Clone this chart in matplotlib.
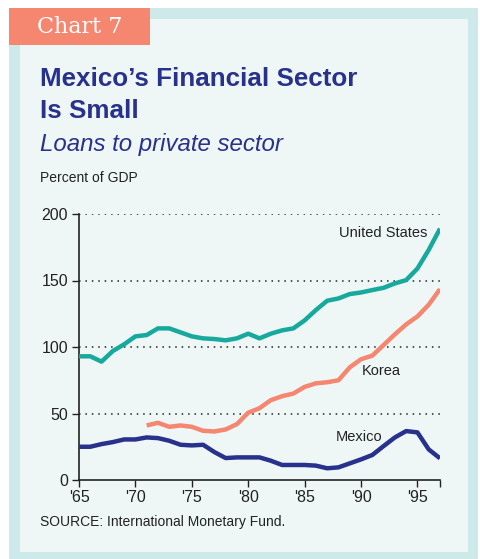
import matplotlib
matplotlib.use("Agg")
import matplotlib.pyplot as plt
from matplotlib.patches import Rectangle
from matplotlib import font_manager

# data (percent of GDP)
us_years = list(range(1965, 1998))
us_vals = [93, 93, 89, 97, 102, 108, 109, 114, 114, 111, 108, 106.5, 106, 105, 106.5,
           110, 106.5, 110, 112.5, 114, 120, 127.8, 134.8, 136.5, 139.8, 141, 142.8,
           144.5, 147.8, 150.3, 159, 173, 189]

korea_years = list(range(1971, 1998))
korea_vals = [41, 43, 40, 41, 40, 37, 36.5, 38, 42, 50.6, 54, 60, 63, 65, 70, 72.7,
              73.5, 75, 84.7, 90.8, 93.5, 101.5, 109.5, 117, 123, 131.8, 143.5]

mexico_years = list(range(1965, 1998))
mexico_vals = [25, 25, 27, 28.5, 30.5, 30.5, 32, 31.5, 29.5, 26.5, 26, 26.5, 21, 16.5,
               17, 17, 17, 14.5, 11.3, 11.3, 11.3, 10.8, 8.8, 9.5, 12.5, 15.5, 18.8,
               25.5, 32, 36.8, 35.8, 23, 16.3]

xtick_years = [1965, 1970, 1975, 1980, 1985, 1990, 1995]
xtick_labels = ["'65", "'70", "'75", "'80", "'85", "'90", "'95"]
yticks = [0, 50, 100, 150, 200]

W, H = 481, 559
teal = "#18a99d"
salmon = "#f5866f"
navy = "#28318c"
border = "#cde9e9"
panel = "#eef7f6"

available = {f.name for f in font_manager.fontManager.ttflist}
narrow = "Liberation Sans Narrow" if "Liberation Sans Narrow" in available else "Liberation Sans"


def fx(px):
    return px / W


def fy(py):
    return 1 - py / H


fig = plt.figure(figsize=(W / 100, H / 100), dpi=100)
fig.patch.set_facecolor("white")

# frame and panel
fig.patches.append(Rectangle((fx(9), fy(559)), fx(478) - fx(9), fy(8) - fy(559),
                             transform=fig.transFigure, facecolor=border, edgecolor="none", zorder=-3))
fig.patches.append(Rectangle((fx(20), fy(552)), fx(468) - fx(20), fy(19) - fy(552),
                             transform=fig.transFigure, facecolor=panel, edgecolor="none", zorder=-2))
fig.patches.append(Rectangle((fx(9), fy(45)), fx(150) - fx(9), fy(8) - fy(45),
                             transform=fig.transFigure, facecolor=salmon, edgecolor="none", zorder=-1))

fig.text(fx(37), fy(27), "Chart 7", color="white", fontsize=16, family="DejaVu Serif",
         va="center", ha="left")
fig.text(fx(40), fy(79), "Mexico\u2019s Financial Sector", color=navy, fontsize=18.7,
         fontweight="bold", family="Liberation Sans", va="center")
fig.text(fx(40), fy(111), "Is Small", color=navy, fontsize=18.7,
         fontweight="bold", family="Liberation Sans", va="center")
fig.text(fx(40), fy(145), "Loans to private sector", color=navy, fontsize=17.3,
         style="italic", family="Liberation Sans", va="center")
fig.text(fx(40), fy(178), "Percent of GDP", color="#222222", fontsize=10,
         family=narrow, va="center")
fig.text(fx(40), fy(522), "SOURCE: International Monetary Fund.", color="#222222",
         fontsize=10, family=narrow, va="center")

ax = fig.add_axes([fx(79), fy(480), fx(440) - fx(79), fy(214) - fy(480)])
ax.set_facecolor("none")
ax.set_zorder(2)

ax.plot(us_years, us_vals, color=teal, lw=3.2, solid_capstyle="butt", zorder=3)
ax.plot(korea_years, korea_vals, color=salmon, lw=3.2, solid_capstyle="butt", zorder=3)
ax.plot(mexico_years, mexico_vals, color=navy, lw=3.2, solid_capstyle="butt", zorder=3)

ax.set_xlim(1965, 1997)
ax.set_ylim(0, 200)
for v in yticks[1:]:
    ax.axhline(v, color="#222222", lw=1.1, ls=(0, (1, 3.2)), zorder=1)

ax.set_xticks(xtick_years + [1997])
ax.set_xticklabels(xtick_labels + [""], family=narrow, fontsize=11.5)
ax.set_yticks(yticks)
ax.set_yticklabels([str(v) for v in yticks], family=narrow, fontsize=11.5)
ax.tick_params(axis="both", direction="out", length=5, width=1, color="#222222", labelcolor="#222222")
ax.tick_params(axis="x", pad=2)
ax.tick_params(axis="y", pad=3)
for s in ["top", "right"]:
    ax.spines[s].set_visible(False)
for s in ["left", "bottom"]:
    ax.spines[s].set_linewidth(1.2)
    ax.spines[s].set_color("#222222")

ax.text(1995.85, 186, "United States", family=narrow, fontsize=10.5, ha="right", va="center", color="#222222")
ax.text(1991.8, 82, "Korea", family=narrow, fontsize=10.5, ha="center", va="center", color="#222222")
ax.text(1989.8, 32.5, "Mexico", family=narrow, fontsize=10.5, ha="center", va="center", color="#222222")

fig.savefig("out.png", dpi=100)
